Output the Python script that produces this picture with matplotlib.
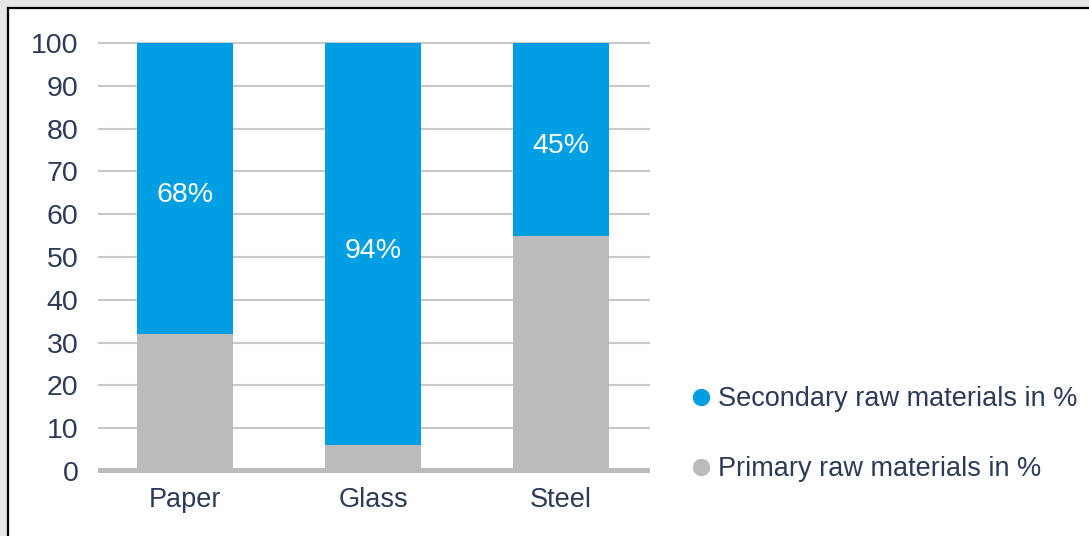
import matplotlib.pyplot as plt
from matplotlib.lines import Line2D
from matplotlib.patches import Rectangle

# data
materials = ['Paper', 'Glass', 'Steel']
primary = [32, 6, 55]
secondary = [68, 94, 45]
secondary_labels = ['68%', '94%', '45%']
yticks = [0, 10, 20, 30, 40, 50, 60, 70, 80, 90, 100]

blue = '#009fe3'
grey = '#bbbbbb'
text_col = '#2b3a58'

plt.rcParams['font.family'] = ['Liberation Sans', 'DejaVu Sans']

W, H = 1089, 536
fig = plt.figure(figsize=(W / 100, H / 100), dpi=100)
fig.patch.set_facecolor('white')

# outer frame: light grey strip and black line at top and left
fig.add_artist(Rectangle((0, (H - 7) / H), 1, 7 / H, transform=fig.transFigure,
                         color='#e6e6e6', lw=0, zorder=0))
fig.add_artist(Rectangle((0, 0), 7 / W, 1, transform=fig.transFigure,
                         color='#e6e6e6', lw=0, zorder=0))
fig.add_artist(Line2D([8 / W, 1], [(H - 8) / H] * 2, transform=fig.transFigure,
                      color='black', lw=1.6))
fig.add_artist(Line2D([8 / W] * 2, [0, (H - 8) / H], transform=fig.transFigure,
                      color='black', lw=1.6))

ax = fig.add_axes([98 / W, 0.1173, (650 - 98) / W, 0.8105])
x = range(len(materials))
ax.bar(x, primary, width=0.51, color=grey, zorder=2)
ax.bar(x, secondary, width=0.51, bottom=primary, color=blue, zorder=2)

for i in x:
    ax.text(i, primary[i] + secondary[i] / 2 - 1.5, secondary_labels[i],
            color='white', fontsize=20.5, ha='center', va='center', zorder=3)

ax.axhline(0, color=grey, lw=5, zorder=3)
ax.set_xlim(-0.463, 2.473)
ax.set_ylim(-0.5, 101)
ax.set_yticks(yticks)
ax.set_xticks(list(x))
ax.set_xticklabels(materials)
ax.yaxis.grid(True, color='#c8c8c8', lw=1.5, zorder=1)
ax.set_axisbelow(True)
for s in ax.spines.values():
    s.set_visible(False)
ax.tick_params(axis='both', length=0, labelsize=19.5, labelcolor=text_col)
ax.tick_params(axis='y', labelsize=20.5, pad=14)
ax.tick_params(axis='x', pad=10)

handles = [
    Line2D([], [], marker='o', ls='none', color=blue, markersize=11.5),
    Line2D([], [], marker='o', ls='none', color=grey, markersize=11.5),
]
fig.legend(handles, ['Secondary raw materials in %', 'Primary raw materials in %'],
           loc='upper left', bbox_to_anchor=(656 / W, (H - 362) / H),
           frameon=False, fontsize=19.5, labelcolor=text_col,
           handletextpad=-0.1, labelspacing=1.62, handlelength=1.5)

fig.savefig('out.png', dpi=100)
